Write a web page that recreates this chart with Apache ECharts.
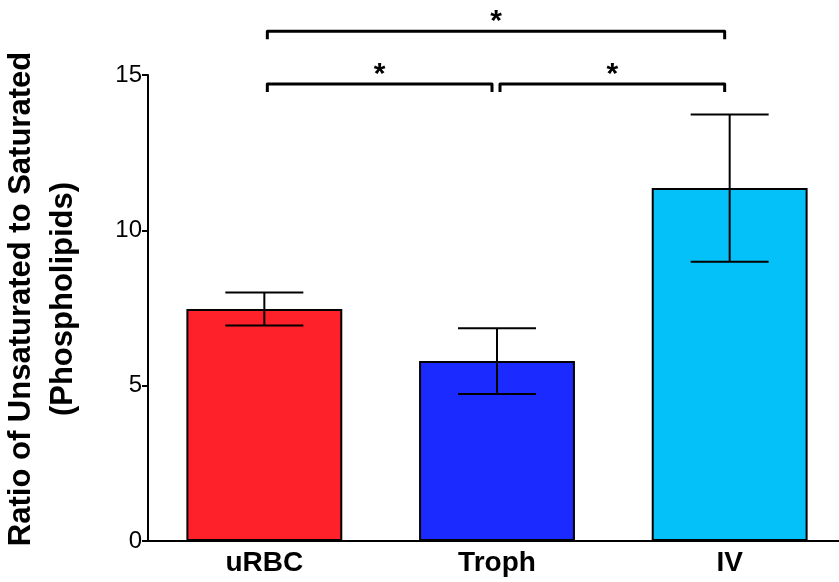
<!DOCTYPE html>
<html><head><meta charset="utf-8">
<script src="https://cdn.jsdelivr.net/npm/echarts@6/dist/echarts.min.js"></script>
<style>html,body{margin:0;padding:0;background:#fff}#c{width:839px;height:582px}</style>
</head><body><div id="c"></div>
<script>
var categories = ['uRBC', 'Troph', 'IV'];
var means = [7.47, 5.79, 11.36];
var errs = [0.53, 1.06, 2.37];
var barColors = ['#FF2129', '#1B2AFF', '#05C1FA'];
var yTicks = [0, 5, 10, 15];
// significance brackets: [fromIndex, toIndex, level (data units), label]
var brackets = [
  [0, 2, 16.41, '*'],
  [0, 1, 14.71, '*'],
  [1, 2, 14.71, '*']
];

var errData = categories.map(function (c, i) { return [i, means[i] - errs[i], means[i] + errs[i]]; });

var chart = echarts.init(document.getElementById('c'), null, {renderer: 'canvas'});
var font = '"Liberation Sans", Arial, Helvetica, sans-serif';
chart.setOption({
  animation: false,
  backgroundColor: '#fff',
  grid: {left: 148, top: 75, width: 698, height: 466, containLabel: false, outerBoundsMode: 'none'},
  xAxis: {
    type: 'category', data: categories, boundaryGap: true,
    axisLine: {lineStyle: {color: '#000', width: 2}},
    axisTick: {alignWithLabel: true, length: 6, lineStyle: {color: '#000', width: 2}},
    axisLabel: {color: '#000', fontFamily: font, fontWeight: 'bold', fontSize: 28, margin: 8},
    splitLine: {show: false}
  },
  yAxis: {
    type: 'value', min: yTicks[0], max: yTicks[yTicks.length - 1], interval: 5,
    axisLine: {show: true, lineStyle: {color: '#000', width: 2}},
    axisTick: {show: true, length: 6, lineStyle: {color: '#000', width: 2}},
    axisLabel: {color: '#000', fontFamily: font, fontSize: 24, margin: 6},
    splitLine: {show: false},
    name: 'Ratio of Unsaturated to Saturated\n(Phospholipids)',
    nameLocation: 'middle', nameRotate: 90, nameGap: 64,
    nameTextStyle: {color: '#000', fontFamily: font, fontWeight: 'bold', fontSize: 31, lineHeight: 42, padding: [0, 0, 0, 18]}
  },
  series: [
    {
      type: 'bar', barWidth: '67%',
      data: means.map(function (v, i) {
        return {value: v, itemStyle: {color: barColors[i], borderColor: '#000', borderWidth: 2}};
      })
    },
    {
      type: 'custom', z: 5, clip: false,
      data: errData,
      renderItem: function (params, api) {
        var x = api.value(0);
        var lo = api.coord([x, api.value(1)]);
        var hi = api.coord([x, api.value(2)]);
        var hw = 39;
        var st = {stroke: '#000', lineWidth: 2};
        return {type: 'group', children: [
          {type: 'line', shape: {x1: lo[0], y1: lo[1], x2: hi[0], y2: hi[1]}, style: st},
          {type: 'line', shape: {x1: hi[0] - hw, y1: hi[1], x2: hi[0] + hw, y2: hi[1]}, style: st},
          {type: 'line', shape: {x1: lo[0] - hw, y1: lo[1], x2: lo[0] + hw, y2: lo[1]}, style: st}
        ]};
      }
    },
    {
      type: 'custom', z: 6, clip: false,
      data: brackets,
      renderItem: function (params, api) {
        var a = api.coord([api.value(0), api.value(2)]);
        var b = api.coord([api.value(1), api.value(2)]);
        var x1 = a[0] + 3, x2 = b[0] - 5, y = a[1];
        return {type: 'group', children: [
          {type: 'polyline', shape: {points: [[x1, y + 8], [x1, y], [x2, y], [x2, y + 8]]},
           style: {stroke: '#000', lineWidth: 3, fill: null, lineJoin: 'round'}},
          {type: 'text', style: {text: brackets[params.dataIndex][3], x: (x1 + x2) / 2, y: y + 6,
            align: 'center', verticalAlign: 'bottom', fill: '#000',
            font: 'bold 30px ' + font}}
        ]};
      }
    }
  ]
});
</script></body></html>
